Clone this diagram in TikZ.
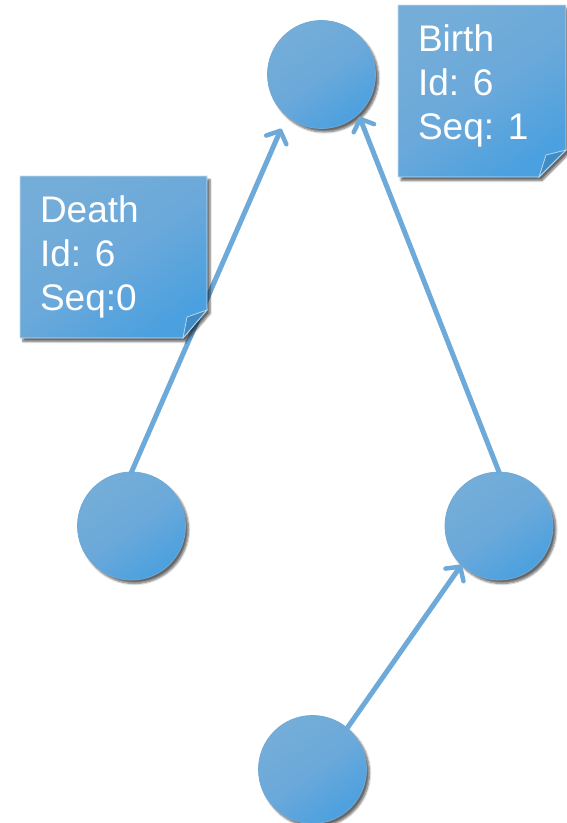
\documentclass[tikz,border=0pt]{standalone}
\usepackage{fontspec}
\setmainfont{Liberation Sans}
\usetikzlibrary{arrows.meta,shadows.blur}
\definecolor{ballA}{HTML}{74ADD8}
\definecolor{ballB}{HTML}{6BA9DA}
\definecolor{ballC}{HTML}{4BA0DF}
\definecolor{ballEdge}{HTML}{6FA9D8}
\definecolor{linkcol}{HTML}{6DAADA}
\definecolor{foldcol}{HTML}{3F8CC6}
\tikzset{
  ball/.style={circle, minimum size=108pt, inner sep=0pt, outer sep=0pt,
    draw=ballEdge, line width=0.8pt,
    top color=ballA, bottom color=ballC, middle color=ballB, shading angle=35,
    blur shadow={shadow xshift=3pt, shadow yshift=-3.5pt, shadow blur steps=6, shadow opacity=60}},
  notebox/.style={top color=ballA, bottom color=ballC, middle color=ballB, shading angle=35,
    draw=white!60!ballA, line width=0.8pt,
    blur shadow={shadow xshift=3pt, shadow yshift=-3.5pt, shadow blur steps=6, shadow opacity=60}},
  foldtri/.style={fill=foldcol, draw=white!50!ballA, line width=0.8pt},
  notetext/.style={anchor=north west, inner sep=0pt, outer sep=0pt, text=white, align=left,
    font=\fontsize{37}{44}\selectfont},
  link/.style={draw=linkcol, line width=5pt, line cap=round,
    -{Straight Barb[length=10pt,width=22pt,line width=4.5pt,round]}}
}
\begin{document}
\begin{tikzpicture}[x=1pt,y=-1pt]
  \useasboundingbox (0,0) rectangle (566,823);

  % circles
  \node[ball] (t) at (321.5,74.5) {};
  \node[ball] (l) at (131.5,526) {};
  \node[ball] (r) at (499,526) {};
  \node[ball] (b) at (312.5,769.5) {};

  % connectors
  \draw[link, shorten >=14pt] (l.north) -- (t.230);
  \draw[link, shorten >=3pt] (r.north) -- (t.313);
  \draw[link] (b.50) -- (r.226);

  % note: birth
  \path[notebox] (398,5) -- (566,5) -- (566,150) -- (539,177) -- (398,177) -- cycle;
  \path[foldtri] (539,177) -- (546,155) -- (566,150) -- cycle;
  \node[notetext] (birth) at (418,25) {Birth\\Id: 6\\Seq: 1};

  % note: death
  \path[notebox] (20,176) -- (207,176) -- (207,310) -- (183,338) -- (20,338) -- cycle;
  \path[foldtri] (183,338) -- (187,317) -- (207,310) -- cycle;
  \node[notetext] (death) at (40,196) {Death\\Id: 6\\Seq:0};
\end{tikzpicture}
\end{document}
